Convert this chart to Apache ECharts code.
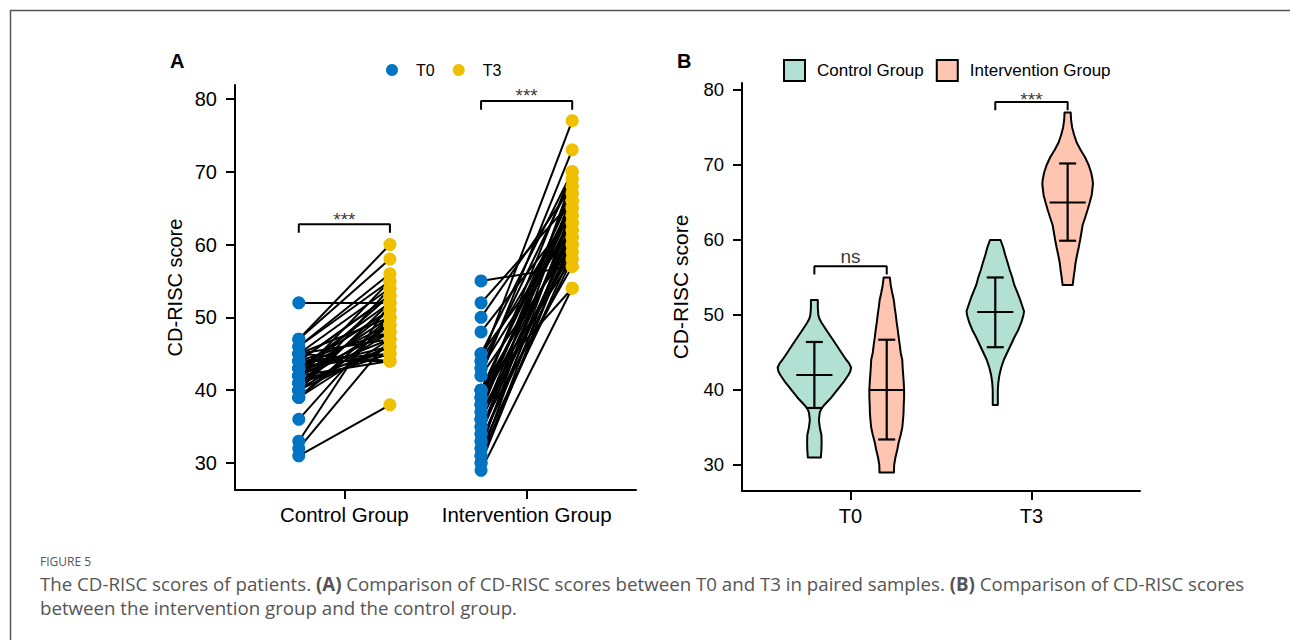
<!DOCTYPE html>
<html><head><meta charset="utf-8">
<script src="https://cdn.jsdelivr.net/npm/echarts@6/dist/echarts.min.js"></script>
<style>html,body{margin:0;padding:0;background:#fff}#c{width:1290px;height:640px}</style>
</head><body><div id="c"></div>
<script>
// ---------- data ----------
const groupsA = ['Control Group', 'Intervention Group'];
const timesB = ['T0', 'T3'];
const yTicks = [30, 40, 50, 60, 70, 80];

// Panel A: paired scores (same index = same patient)
const controlT0 = [52, 47, 47, 46, 46, 45, 45, 45, 45, 44, 44, 44, 44, 43, 43, 43, 43, 43, 42, 42, 42, 42, 42, 41, 41, 41, 41, 40, 40, 40, 40, 39, 39, 39, 36, 33, 32, 31, 44, 42];
const controlT3 = [52, 60, 58, 56, 55, 44, 50, 54, 47, 45, 48, 53, 44, 51, 46, 49, 52, 45, 55, 47, 50, 44, 53, 46, 49, 51, 45, 54, 48, 52, 46, 50, 47, 49, 50, 52, 47, 38, 53, 48];
const interventionT0 = [55, 52, 50, 48, 45, 45, 44, 44, 43, 43, 42, 42, 40, 40, 40, 39, 39, 39, 38, 38, 37, 37, 36, 36, 35, 35, 34, 34, 33, 33, 32, 32, 31, 31, 30, 30, 29, 38, 36, 40];
const interventionT3 = [57, 66, 68, 64, 70, 62, 77, 65, 69, 63, 73, 60, 66, 61, 67, 64, 58, 70, 62, 65, 59, 68, 63, 66, 57, 61, 69, 64, 60, 62, 67, 58, 65, 59, 63, 61, 54, 66, 60, 54];

// Panel A significance brackets: [left x, right x, bracket level, leg bottom]
const sigA = [[0.75, 1.25, 62.8, 61.6], [1.75, 2.25, 79.7, 78.5]];
const sigAText = ['***', '***'];

// Panel B violin profiles: [score, half width in category units]
const violinControlT0 = [[52,.019],[51,.019],[50,.022],[49.5,.028],[49,.039],[48,.066],[47,.094],[46,.122],[45,.149],[44,.177],[43.5,.193],[43,.203],[42.5,.199],[42,.188],[41,.160],[40,.127],[39,.094],[38,.055],[37.5,.039],[37,.030],[36,.025],[35,.030],[34,.039],[33,.040],[32,.039],[31,.036]];
const violinInterventionT0 = [[55,.017],[54,.022],[53,.030],[52,.039],[51,.044],[50,.050],[49,.055],[48,.061],[47,.066],[46,.072],[45,.077],[44,.086],[43,.088],[42,.091],[41,.094],[40,.096],[39,.096],[38,.094],[37,.093],[36,.090],[35,.086],[34,.077],[33,.066],[32,.058],[31,.048],[30,.041],[29,.040]];
const violinControlT3 = [[60,.029],[59,.044],[58,.055],[57,.068],[56,.080],[55,.094],[54,.105],[53,.122],[52,.138],[51,.152],[50.5,.159],[50,.156],[49,.144],[48,.127],[47,.105],[46,.086],[45,.066],[44,.047],[43,.033],[42,.023],[41,.017],[40,.014],[38,.014]];
const violinInterventionT3 = [[77,.017],[76,.019],[75,.025],[74,.036],[73,.050],[72,.072],[71,.097],[70,.116],[69,.130],[68,.138],[67.5,.140],[67,.138],[66,.133],[65,.122],[64,.110],[63,.097],[62,.083],[61,.076],[60,.069],[59,.061],[58,.052],[57,.044],[56,.039],[55,.033],[54,.028]];

// Panel B mean ± SD: order ControlT0, InterventionT0, ControlT3, InterventionT3
const violinPos = [0.8, 1.2, 1.8, 2.2];
const violinMean = [42.0, 40.0, 50.4, 65.0];
const violinLower = [37.6, 33.4, 45.7, 59.9];
const violinUpper = [46.4, 46.7, 55.0, 70.2];

// Panel B significance brackets
const sigB = [[0.8, 1.2, 56.5, 55.4], [1.8, 2.2, 78.4, 77.3]];
const sigBText = ['ns', '***'];
const sigBTextY = [57.8, 78.7];

// ---------- chart ----------
const FONT = 'Liberation Sans';
const violinProfiles = [violinControlT0, violinInterventionT0, violinControlT3, violinInterventionT3];
const setA = '#0073C2', setB = '#EFC000';
const fillC = '#B2E0D2', fillI = '#FEC6B0';

function pairLines(a, b, g) {
  return a.map((v, i) => ({ coords: [[g - 0.25, v], [g + 0.25, b[i]]] }));
}
function bracketData(s) {
  const out = [];
  s.forEach(b => { out.push([b[0], b[3]], [b[0], b[2]], [b[1], b[2]], [b[1], b[3]], [NaN, NaN]); });
  return out;
}

function renderViolin(params, api) {
  const cx = api.value(0);
  const prof = violinProfiles[api.value(2)];
  const right = prof.map(p => api.coord([cx + p[1], p[0]]));
  const left = prof.slice().reverse().map(p => api.coord([cx - p[1], p[0]]));
  return { type: 'polygon', shape: { points: right.concat(left) },
    style: { fill: api.visual('color'), stroke: '#000', lineWidth: 2, lineJoin: 'round' } };
}
function renderErr(params, api) {
  const cx = api.value(0), m = api.value(1), lo = api.value(2), hi = api.value(3);
  const capW = 0.047, meanW = 0.10;
  const seg = (x1, y1, x2, y2) => {
    const p1 = api.coord([x1, y1]), p2 = api.coord([x2, y2]);
    return { type: 'line', shape: { x1: p1[0], y1: p1[1], x2: p2[0], y2: p2[1] }, style: { stroke: '#000', lineWidth: 2.2 } };
  };
  return { type: 'group', children: [
    seg(cx, lo, cx, hi), seg(cx - capW, lo, cx + capW, lo), seg(cx - capW, hi, cx + capW, hi), seg(cx - meanW, m, cx + meanW, m)
  ] };
}

const axisCommon = {
  axisLine: { show: true, lineStyle: { color: '#000', width: 2 } },
  axisTick: { show: true, length: 9, lineStyle: { color: '#000', width: 2 } },
  splitLine: { show: false }
};

const option = {
  animation: false,
  backgroundColor: '#fff',
  textStyle: { fontFamily: FONT },
  grid: [
    { left: 235, width: 401, top: 85, height: 405 },
    { left: 742, width: 398, top: 83, height: 408 }
  ],
  xAxis: [
    Object.assign({}, axisCommon, { gridIndex: 0, type: 'value', min: 0.4, max: 2.6,
      axisTick: Object.assign({}, axisCommon.axisTick, { customValues: [1, 2] }),
      axisLabel: { customValues: [1, 2], formatter: v => groupsA[Math.round(v) - 1], fontSize: 20.5, color: '#000', margin: 14, fontFamily: FONT } }),
    Object.assign({}, axisCommon, { gridIndex: 1, type: 'value', min: 0.4, max: 2.6,
      axisTick: Object.assign({}, axisCommon.axisTick, { customValues: [1, 2] }),
      axisLabel: { customValues: [1, 2], formatter: v => timesB[Math.round(v) - 1], fontSize: 20, color: '#000', margin: 15, fontFamily: FONT } })
  ],
  yAxis: [
    Object.assign({}, axisCommon, { gridIndex: 0, type: 'value', min: 26.3, max: 81.9,
      axisTick: Object.assign({}, axisCommon.axisTick, { customValues: yTicks }),
      axisLabel: { customValues: yTicks, fontSize: 20, color: '#000', margin: 18, fontFamily: FONT },
      name: 'CD-RISC score', nameLocation: 'middle', nameRotate: 90, nameGap: 50,
      nameTextStyle: { fontSize: 20, color: '#000', fontFamily: FONT } }),
    Object.assign({}, axisCommon, { gridIndex: 1, type: 'value', min: 26.53, max: 80.93,
      axisTick: Object.assign({}, axisCommon.axisTick, { customValues: yTicks }),
      axisLabel: { customValues: yTicks, fontSize: 18.5, color: '#000', margin: 18, fontFamily: FONT },
      name: 'CD-RISC score', nameLocation: 'middle', nameRotate: 90, nameGap: 51,
      nameTextStyle: { fontSize: 21, color: '#000', fontFamily: FONT } })
  ],
  legend: [
    { data: ['T0', 'T3'], left: 381, top: 57, icon: 'circle', itemWidth: 12, itemHeight: 12, itemGap: 18,
      selectedMode: false, textStyle: { fontSize: 16, color: '#000', fontFamily: FONT, padding: [0, 0, 0, 13] } },
    { data: ['Control Group', 'Intervention Group'], left: 778, top: 54, icon: 'rect', itemWidth: 21, itemHeight: 21, itemGap: 12,
      selectedMode: false, itemStyle: { borderColor: '#000', borderWidth: 2 },
      textStyle: { fontSize: 17, color: '#000', fontFamily: FONT, padding: [0, 0, 0, 7] } }
  ],
  series: [
    { type: 'lines', coordinateSystem: 'cartesian2d', xAxisIndex: 0, yAxisIndex: 0, silent: true,
      lineStyle: { color: '#000', width: 2, opacity: 1 },
      data: pairLines(controlT0, controlT3, 1).concat(pairLines(interventionT0, interventionT3, 2)) },
    { name: 'T0', type: 'scatter', xAxisIndex: 0, yAxisIndex: 0, symbolSize: 13, itemStyle: { color: setA, opacity: 1 },
      data: controlT0.map(v => [0.75, v]).concat(interventionT0.map(v => [1.75, v])) },
    { name: 'T3', type: 'scatter', xAxisIndex: 0, yAxisIndex: 0, symbolSize: 13, itemStyle: { color: setB, opacity: 1 },
      data: controlT3.map(v => [1.25, v]).concat(interventionT3.map(v => [2.25, v])) },
    { type: 'line', xAxisIndex: 0, yAxisIndex: 0, symbol: 'none', silent: true, connectNulls: false,
      lineStyle: { color: '#000', width: 2 }, data: bracketData(sigA) },
    { type: 'scatter', xAxisIndex: 0, yAxisIndex: 0, symbolSize: 1, silent: true, itemStyle: { color: 'rgba(0,0,0,0)' },
      label: { show: true, position: 'inside', formatter: p => p.value[2], fontSize: 19, color: '#000', fontFamily: FONT },
      data: sigA.map((b, i) => [(b[0] + b[1]) / 2, b[2] + 0.7, sigAText[i]]) },

    { name: 'Control Group', type: 'custom', xAxisIndex: 1, yAxisIndex: 1, renderItem: renderViolin,
      itemStyle: { color: fillC }, encode: { x: 0, y: 1 },
      data: [[violinPos[0], violinMean[0], 0], [violinPos[2], violinMean[2], 2]] },
    { name: 'Intervention Group', type: 'custom', xAxisIndex: 1, yAxisIndex: 1, renderItem: renderViolin,
      itemStyle: { color: fillI }, encode: { x: 0, y: 1 },
      data: [[violinPos[1], violinMean[1], 1], [violinPos[3], violinMean[3], 3]] },
    { type: 'custom', xAxisIndex: 1, yAxisIndex: 1, renderItem: renderErr, silent: true, encode: { x: 0, y: 1 },
      data: violinPos.map((x, i) => [x, violinMean[i], violinLower[i], violinUpper[i]]) },
    { type: 'line', xAxisIndex: 1, yAxisIndex: 1, symbol: 'none', silent: true, connectNulls: false,
      lineStyle: { color: '#000', width: 2 }, data: bracketData(sigB) },
    { type: 'scatter', xAxisIndex: 1, yAxisIndex: 1, symbolSize: 1, silent: true, itemStyle: { color: 'rgba(0,0,0,0)' },
      label: { show: true, position: 'inside', formatter: p => p.value[2], fontSize: 19, color: '#000', fontFamily: FONT },
      data: sigB.map((b, i) => [(b[0] + b[1]) / 2, sigBTextY[i], sigBText[i]]) }
  ],
  graphic: [
    { type: 'line', shape: { x1: 10, y1: 10.5, x2: 1290, y2: 10.5 }, style: { stroke: '#555', lineWidth: 1.5 } },
    { type: 'line', shape: { x1: 10.5, y1: 10, x2: 10.5, y2: 640 }, style: { stroke: '#555', lineWidth: 1.5 } },
    { type: 'text', left: 170, top: 51, style: { text: 'A', font: 'bold 20px "Liberation Sans"', fill: '#000' } },
    { type: 'text', left: 677, top: 51, style: { text: 'B', font: 'bold 20px "Liberation Sans"', fill: '#000' } },
    { type: 'text', left: 40, top: 555, style: { text: 'FIGURE 5', font: '12px "Open Sans"', fill: '#555' } },
    { type: 'text', left: 40, top: 571, style: {
      text: 'The CD-RISC scores of patients. {b|(A)} Comparison of CD-RISC scores between T0 and T3 in paired samples. {b|(B)} Comparison of CD-RISC scores\nbetween the intervention group and the control group.',
      font: '18.7px "Open Sans"', fill: '#555', lineHeight: 24,
      rich: { b: { fontWeight: 'bold', fontSize: 18.7, fontFamily: 'Open Sans', fill: '#555', lineHeight: 24 } } } }
  ]
};

const chart = echarts.init(document.getElementById('c'), null, { renderer: 'svg', width: 1290, height: 640 });
chart.setOption(option);
</script>
</body></html>
